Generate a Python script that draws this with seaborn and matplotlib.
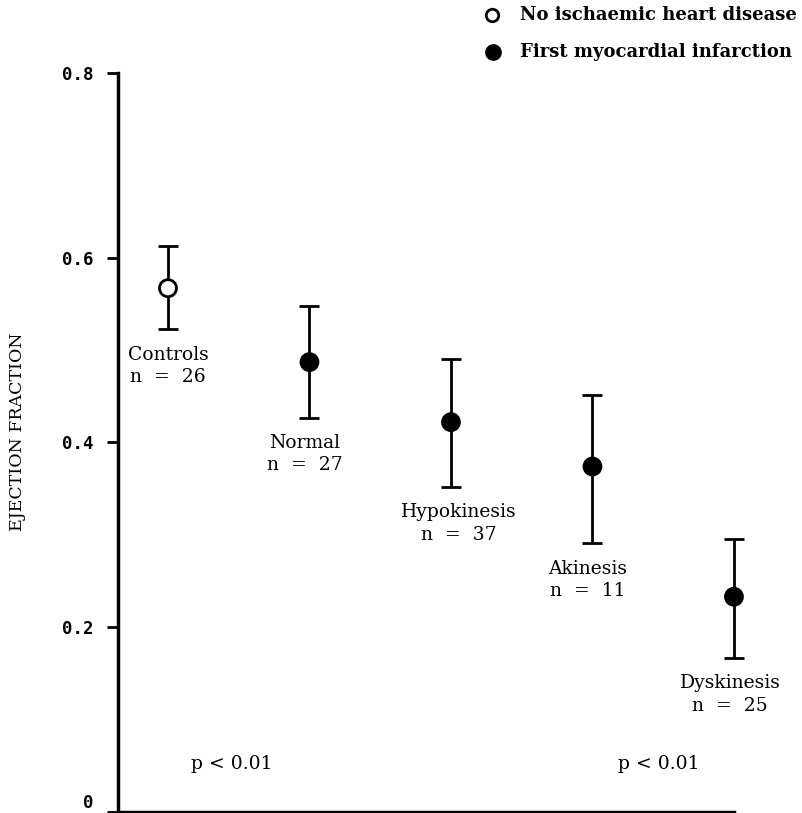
import matplotlib
matplotlib.use("Agg")
import matplotlib.pyplot as plt
import seaborn as sns
import pandas as pd
from matplotlib.lines import Line2D

# Data
groups = ["Controls", "Normal", "Hypokinesis", "Akinesis", "Dyskinesis"]
n_values = [26, 27, 37, 11, 25]
ef_mean = [0.567, 0.487, 0.422, 0.374, 0.233]
ef_upper = [0.613, 0.548, 0.490, 0.451, 0.296]
ef_lower = [0.523, 0.427, 0.352, 0.291, 0.167]
condition = ["No ischaemic heart disease", "First myocardial infarction",
             "First myocardial infarction", "First myocardial infarction",
             "First myocardial infarction"]

df = pd.DataFrame({"group": groups, "n": n_values, "ef": ef_mean,
                   "hi": ef_upper, "lo": ef_lower, "condition": condition})
df["pos"] = range(len(df))

sns.set_style("white")
plt.rcParams["font.family"] = ["DejaVu Serif"]
plt.rcParams["text.color"] = "black"
plt.rcParams["axes.labelcolor"] = "black"
plt.rcParams["ytick.color"] = "black"

fig = plt.figure(figsize=(8.03, 8.13), dpi=100)
ax = fig.add_axes([0.147, 0.0012, 0.767, 0.9091])

# error bars
ax.errorbar(df["pos"], df["ef"],
            yerr=[df["ef"] - df["lo"], df["hi"] - df["ef"]],
            fmt="none", ecolor="black", elinewidth=2, capsize=7, capthick=2,
            clip_on=False, zorder=2)

# points
sns.scatterplot(data=df, x="pos", y="ef", hue="condition",
                palette={"No ischaemic heart disease": "white",
                         "First myocardial infarction": "black"},
                edgecolor="black", linewidth=2, s=150, legend=False,
                ax=ax, zorder=3, clip_on=False)

ax.set_xlim(-0.353, 4.0)
ax.set_ylim(0, 0.8)
ax.set_yticks([0, 0.2, 0.4, 0.6, 0.8])
ax.set_yticklabels(["0", "0.2", "0.4", "0.6", "0.8"],
                   family="DejaVu Sans Mono", fontweight="bold", fontsize=12.5)
ax.get_yticklabels()[0].set_va("bottom")
ax.set_xticks([])
ax.set_xlabel("")
ax.set_ylabel("EJECTION FRACTION", fontsize=12.5)
ax.yaxis.set_label_coords(-0.149, 0.515)
ax.tick_params(axis="y", direction="out", length=8, width=2, left=True, pad=10)
for s in ["top", "right"]:
    ax.spines[s].set_visible(False)
for s in ["left", "bottom"]:
    ax.spines[s].set_linewidth(2.5)
    ax.spines[s].set_color("black")

# group labels under each error bar
label_dx = [0, -5, 8, -5, -4]
for i, row in df.iterrows():
    ax.annotate(f"{row['group']}\nn  =  {row['n']}",
                xy=(row["pos"], row["lo"]), xytext=(label_dx[i] * 0.72, -12),
                textcoords="offset points", ha="center", va="top",
                fontsize=13.5, linespacing=1.3)

ax.text(0.45, 0.052, "p < 0.01", ha="center", va="center", fontsize=13.5)
ax.text(3.47, 0.052, "p < 0.01", ha="center", va="center", fontsize=13.5)

# legend at top right
legend_labels = ["No ischaemic heart disease", "First myocardial infarction"]
legend_y = [1 - 15 / 813, 1 - 52 / 813]
fig.add_artist(Line2D([492 / 803], [legend_y[0]], marker="o", linestyle="none",
                      markerfacecolor="white", markeredgecolor="black",
                      markeredgewidth=2, markersize=9))
fig.add_artist(Line2D([493 / 803], [legend_y[1]], marker="o", linestyle="none",
                      markerfacecolor="black", markeredgecolor="black",
                      markersize=11))
for lab, y in zip(legend_labels, legend_y):
    fig.text(520 / 803, y, lab, ha="left", va="center", fontsize=13,
             fontweight="bold")

fig.savefig("out.png", dpi=100)
